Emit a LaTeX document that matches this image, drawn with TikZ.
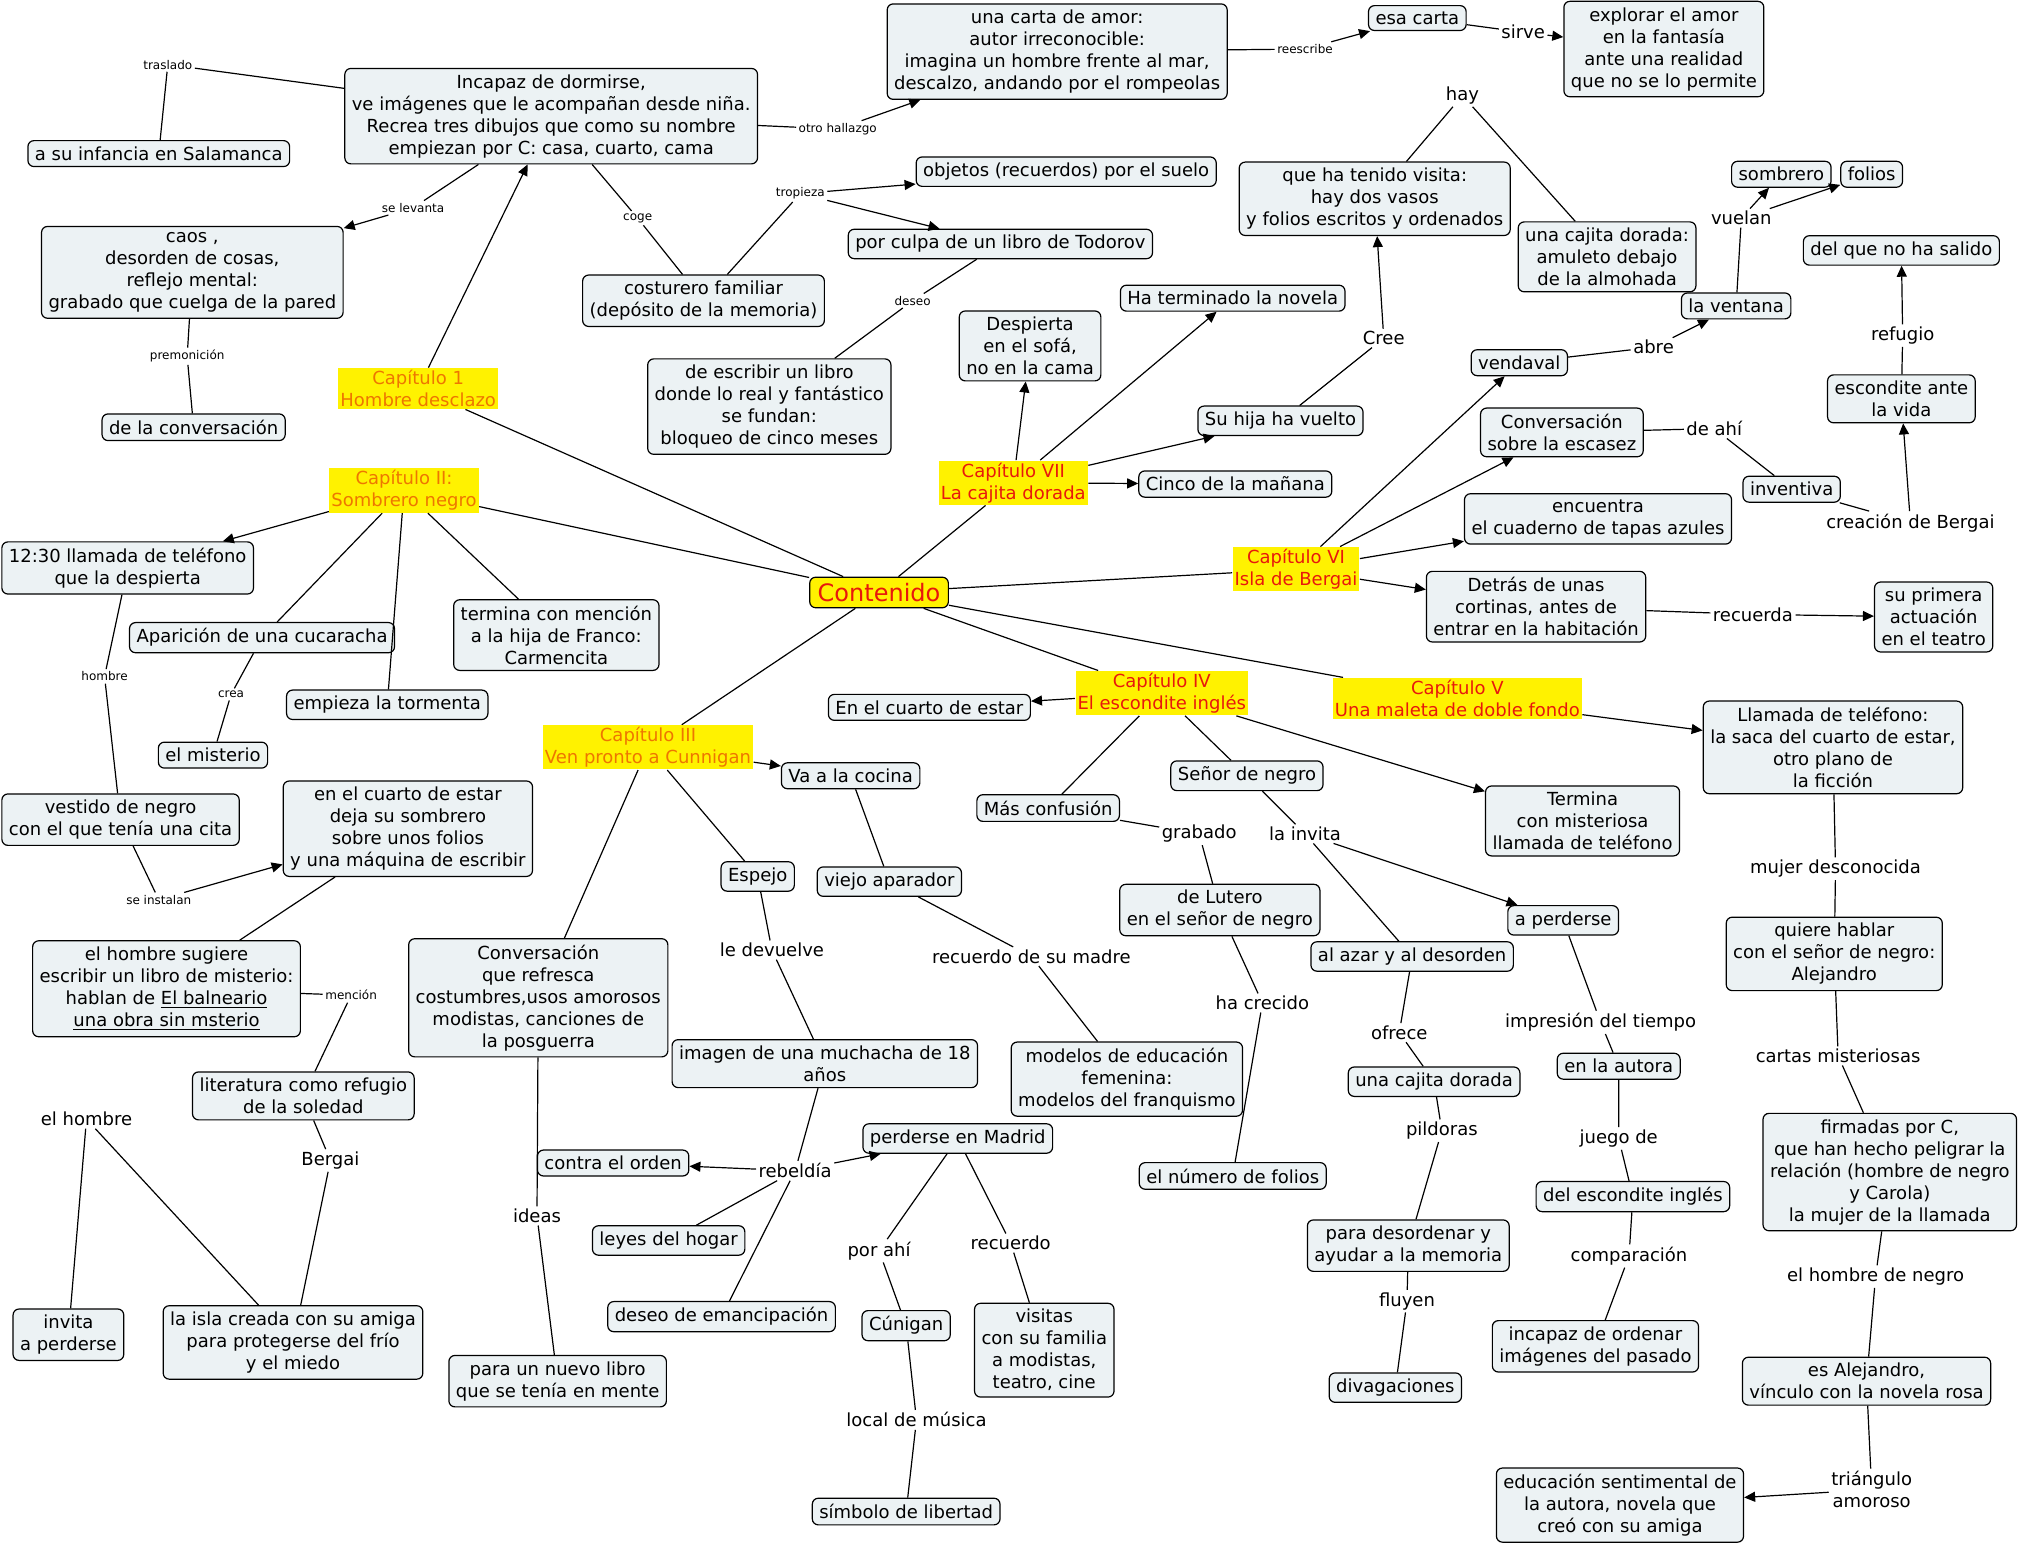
\documentclass[tikz,border=0pt]{standalone}
\usepackage{fontspec}
\setmainfont{DejaVu Sans}
\usetikzlibrary{arrows.meta}

\definecolor{conceptfill}{RGB}{236,242,244}
\definecolor{capred}{RGB}{232,24,12}
\definecolor{caporange}{RGB}{238,118,0}

\begin{document}
\begin{tikzpicture}[x=0.6454pt, y=-0.6454pt, line width=0.6pt,
  >={Triangle[length=5.5pt,width=5pt]},
  concept/.style={draw, rounded corners=3pt, fill=conceptfill, inner xsep=3.5pt, inner ysep=3pt, align=center, font=\fontsize{9}{11}\selectfont},
  chapter/.style={fill=yellow, inner sep=1pt, align=center, font=\fontsize{9}{11}\selectfont},
  linkword/.style={inner sep=1pt, align=center, font=\fontsize{9}{11}\selectfont},
  smalllink/.style={inner sep=1pt, font=\fontsize{6}{7}\selectfont}]
% fix the page size
\useasboundingbox (0,0) rectangle (1568,1199);

% centre of the map
\node[draw, rounded corners=3pt, fill=yellow, text=capred, inner xsep=4pt, inner ysep=3pt, font=\fontsize{12}{14}\selectfont] (cont) at (681,459) {Contenido};

% chapters
\node[chapter, text=caporange] (cap1) at (324,301) {Capítulo 1\\Hombre desclazo};
\node[chapter, text=caporange] (cap2) at (313,380) {Capítulo II:\\Sombrero negro};
\node[chapter, text=caporange] (cap3) at (502,579) {Capítulo III\\Ven pronto a Cunnigan};
\node[chapter, text=capred] (cap4) at (900,537) {Capítulo IV\\El escondite inglés};
\node[chapter, text=capred] (cap5) at (1129,541) {Capítulo V\\Una maleta de doble fondo};
\node[chapter, text=capred] (cap6) at (1004,441) {Capítulo VI\\Isla de Bergai};
\node[chapter, text=capred] (cap7) at (785,374) {Capítulo VII\\La cajita dorada};

\foreach \c in {cap1,cap2,cap3,cap4,cap5,cap6,cap7}
  \draw (cont) -- (\c);

% chapter 1
\node[concept] (inc) at (427,90) {Incapaz de dormirse,\\ve imágenes que le acompañan desde niña.\\Recrea tres dibujos que como su nombre\\empiezan por C: casa, cuarto, cama};
\node[concept] (sal) at (123,119) {a su infancia en Salamanca};
\node[concept] (caos) at (149,211) {caos ,\\desorden de cosas,\\reflejo mental:\\grabado que cuelga de la pared};
\node[concept] (conv) at (150,331) {de la conversación};
\node[concept] (carta) at (819,40) {una carta de amor:\\autor irreconocible:\\imagina un hombre frente al mar,\\descalzo, andando por el rompeolas};
\node[concept] (esa) at (1098,14) {esa carta};
\node[concept] (expl) at (1289,38) {explorar el amor\\en la fantasía\\ante una realidad\\que no se lo permite};
\node[concept] (obj) at (826,133) {objetos (recuerdos) por el suelo};
\node[concept] (todo) at (775,189) {por culpa de un libro de Todorov};
\node[concept] (cost) at (545,233) {costurero familiar\\(depósito de la memoria)};
\node[concept] (escr) at (596,315) {de escribir un libro\\donde lo real y fantástico\\se fundan:\\bloqueo de cinco meses};

\node[smalllink] (ltras) at (130,50) {traslado};
\node[smalllink] (llev) at (320,161) {se levanta};
\node[smalllink] (lhall) at (649,100) {otro hallazgo};
\node[smalllink] (lrees) at (1011,38) {reescribe};
\node[linkword] (lsirv) at (1180,25) {sirve};
\node[smalllink] (ltrop) at (620,150) {tropieza};
\node[smalllink] (lcoge) at (494,169) {coge};
\node[smalllink] (ldes) at (707,233) {deseo};
\node[smalllink] (lprem) at (145,276) {premonición};

\draw[->] (cap1) -- (inc);
\draw (inc) -- (ltras) -- (sal);
\draw (inc) -- (llev);
\draw[->] (llev) -- (caos);
\draw (caos) -- (lprem) -- (conv);
\draw (inc) -- (lhall);
\draw[->] (lhall) -- (carta);
\draw (carta) -- (lrees);
\draw[->] (lrees) -- (esa);
\draw (esa) -- (lsirv);
\draw[->] (lsirv) -- (expl);
\draw (inc) -- (lcoge) -- (cost);
\draw (cost) -- (ltrop);
\draw[->] (ltrop) -- (obj);
\draw[->] (ltrop) -- (todo);
\draw (todo) -- (ldes) -- (escr);

% chapter 2
\node[concept, anchor=west] (llam) at (1,440) {12:30 llamada de teléfono\\que la despierta};
\node[concept] (cuca) at (203,494) {Aparición de una cucaracha};
\node[concept] (franco) at (431,492) {termina con mención\\a la hija de Franco:\\Carmencita};
\node[concept] (torm) at (300,546) {empieza la tormenta};
\node[concept] (mist) at (165,585) {el misterio};
\node[concept, anchor=west] (vestido) at (1,635) {vestido de negro\\con el que tenía una cita};
\node[concept] (deja) at (316,642) {en el cuarto de estar\\deja su sombrero\\sobre unos folios\\y una máquina de escribir};
\node[concept] (sugiere) at (129,766) {el hombre sugiere\\escribir un libro de misterio:\\hablan de \underline{El balneario}\\\underline{una obra sin msterio}};
\node[concept] (lit) at (235,849) {literatura como refugio\\de la soledad};
\node[concept] (invita) at (53,1034) {invita\\a perderse};
\node[concept] (isla) at (227,1040) {la isla creada con su amiga\\para protegerse del frío\\y el miedo};

\node[smalllink] (lhomb) at (81,524) {hombre};
\node[smalllink] (lcreasm) at (179,538) {crea};
\node[smalllink] (linst) at (123,697) {se instalan};
\node[smalllink] (lmenc) at (272,771) {mención};
\node[linkword] (lberg) at (256,899) {Bergai};
\node[linkword] (lelh) at (67,867) {el hombre};

\draw[->] (cap2) -- (llam);
\draw (cap2) -- (cuca);
\draw (cap2) -- (torm);
\draw (cap2) -- (franco);
\draw (llam) -- (lhomb) -- (vestido);
\draw (cuca) -- (lcreasm) -- (mist);
\draw (vestido) -- (linst);
\draw[->] (linst) -- (deja);
\draw (deja) -- (sugiere);
\draw (sugiere) -- (lmenc) -- (lit);
\draw (lit) -- (lberg) -- (isla);
\draw (invita) -- (lelh) -- (isla);

% chapter 3
\node[concept] (cocina) at (659,601) {Va a la cocina};
\node[concept] (espejo) at (587,679) {Espejo};
\node[concept] (apar) at (689,683) {viejo aparador};
\node[concept] (refresca) at (417,773) {Conversación\\que refresca\\costumbres,usos amorosos\\modistas, canciones de\\la posguerra};
\node[concept] (imagen) at (639,824) {imagen de una muchacha de 18\\años};
\node[concept] (modelos) at (873,836) {modelos de educación\\femenina:\\modelos del franquismo};
\node[concept] (orden) at (475,901) {contra el orden};
\node[concept] (madrid) at (742,882) {perderse en Madrid};
\node[concept] (leyes) at (518,961) {leyes del hogar};
\node[concept] (emanc) at (559,1020) {deseo de emancipación};
\node[concept] (cunig) at (702,1027) {Cúnigan};
\node[concept] (visitas) at (809,1046) {visitas\\con su familia\\a modistas,\\teatro, cine};
\node[concept] (nuevo) at (432,1070) {para un nuevo libro\\que se tenía en mente};
\node[concept] (simb) at (702,1171) {símbolo de libertad};

\node[linkword] (ldevu) at (598,736) {le devuelve};
\node[linkword] (lmadre) at (799,741) {recuerdo de su madre};
\node[linkword] (lideas) at (416,942) {ideas};
\node[linkword] (lrebe) at (616,907) {rebeldía};
\node[linkword] (lporahi) at (681,969) {por ahí};
\node[linkword] (lrecu2) at (783,963) {recuerdo};
\node[linkword] (lmus) at (710,1100) {local de música};

\draw[->] (cap3) -- (cocina);
\draw (cap3) -- (espejo);
\draw (cap3) -- (refresca);
\draw (cocina) -- (apar);
\draw (apar) -- (lmadre) -- (modelos);
\draw (espejo) -- (ldevu) -- (imagen);
\draw (imagen) -- (lrebe) -- (emanc);
\draw (lrebe) -- (leyes);
\draw[->] (lrebe) -- (orden);
\draw[->] (lrebe) -- (madrid);
\draw (refresca) -- (lideas) -- (nuevo);
\draw (madrid) -- (lporahi) -- (cunig);
\draw (madrid) -- (lrecu2) -- (visitas);
\draw (cunig) -- (lmus) -- (simb);

% chapter 4
\node[concept] (cuarto) at (720,548) {En el cuarto de estar};
\node[concept] (confus) at (812,626) {Más confusión};
\node[concept] (senor) at (966,601) {Señor de negro};
\node[concept] (termina) at (1226,636) {Termina\\con misteriosa\\llamada de teléfono};
\node[concept] (lutero) at (945,705) {de Lutero\\en el señor de negro};
\node[concept] (aperd) at (1211,713) {a perderse};
\node[concept] (azar) at (1094,741) {al azar y al desorden};
\node[concept] (cajita) at (1111,838) {una cajita dorada};
\node[concept] (autora) at (1254,826) {en la autora};
\node[concept] (numfol) at (955,911) {el número de folios};
\node[concept] (escing) at (1265,927) {del escondite inglés};
\node[concept] (desord) at (1091,965) {para desordenar y\\ayudar a la memoria};
\node[concept] (incord) at (1236,1043) {incapaz de ordenar\\imágenes del pasado};
\node[concept] (divag) at (1081,1075) {divagaciones};

\node[linkword] (lgrab) at (929,646) {grabado};
\node[linkword] (linvi) at (1011,646) {la invita};
\node[linkword] (lcrec) at (978,777) {ha crecido};
\node[linkword] (lofre) at (1084,800) {ofrece};
\node[linkword] (limpr) at (1240,792) {impresión del tiempo};
\node[linkword] (lpild) at (1117,876) {pildoras};
\node[linkword] (ljueg) at (1254,882) {juego de};
\node[linkword] (lcomp) at (1262,973) {comparación};
\node[linkword] (lfluy) at (1090,1008) {fluyen};

\draw[->] (cap4) -- (cuarto);
\draw (cap4) -- (confus);
\draw (cap4) -- (senor);
\draw[->] (cap4) -- (termina);
\draw (confus) -- (lgrab) -- (lutero);
\draw (lutero) -- (lcrec) -- (numfol);
\draw (senor) -- (linvi) -- (azar);
\draw[->] (linvi) -- (aperd);
\draw (azar) -- (lofre) -- (cajita);
\draw (cajita) -- (lpild) -- (desord);
\draw (desord) -- (lfluy) -- (divag);
\draw (aperd) -- (limpr) -- (autora);
\draw (autora) -- (ljueg) -- (escing);
\draw (escing) -- (lcomp) -- (incord);

% chapter 5
\node[concept] (tel) at (1420,579) {Llamada de teléfono:\\la saca del cuarto de estar,\\otro plano de\\la ficción};
\node[concept] (quiere) at (1421,739) {quiere hablar\\con el señor de negro:\\Alejandro};
\node[concept] (firm) at (1464,908) {firmadas por C,\\que han hecho peligrar la\\relación (hombre de negro\\y Carola)\\la mujer de la llamada};
\node[concept] (alej) at (1446,1070) {es Alejandro,\\vínculo con la novela rosa};
\node[concept] (educ) at (1255,1166) {educación sentimental de\\la autora, novela que\\creó con su amiga};

\node[linkword] (lmuj) at (1422,673) {mujer desconocida};
\node[linkword] (lcart) at (1424,818) {cartas misteriosas};
\node[linkword] (lhneg) at (1453,989) {el hombre de negro};
\node[linkword] (ltri) at (1450,1154) {triángulo\\amoroso};

\draw[->] (cap5) -- (tel);
\draw (tel) -- (lmuj) -- (quiere);
\draw (quiere) -- (lcart) -- (firm);
\draw (firm) -- (lhneg) -- (alej);
\draw (alej) -- (ltri);
\draw[->] (ltri) -- (educ);

% chapter 6
\node[concept] (vend) at (1177,281) {vendaval};
\node[concept] (vent) at (1345,237) {la ventana};
\node[concept] (somb) at (1380,135) {sombrero};
\node[concept] (fol) at (1450,135) {folios};
\node[concept] (escas) at (1210,335) {Conversación\\sobre la escasez};
\node[concept] (inven) at (1388,379) {inventiva};
\node[concept] (esc) at (1473,309) {escondite ante\\la vida};
\node[concept] (nosal) at (1473,194) {del que no ha salido};
\node[concept] (cuad) at (1238,402) {encuentra\\el cuaderno de tapas azules};
\node[concept] (detras) at (1190,470) {Detrás de unas\\cortinas, antes de\\entrar en la habitación};
\node[concept] (teatro) at (1498,478) {su primera\\actuación\\en el teatro};

\node[linkword] (labre) at (1281,269) {abre};
\node[linkword] (lvuel) at (1349,169) {vuelan};
\node[linkword] (lahi) at (1328,332) {de ahí};
\node[linkword] (lcrea) at (1480,405) {creación de Bergai};
\node[linkword] (lrefu) at (1474,260) {refugio};
\node[linkword] (lrecu) at (1358,476) {recuerda};

\draw[->] (cap6) -- (vend);
\draw[->] (cap6) -- (escas);
\draw[->] (cap6) -- (cuad);
\draw[->] (cap6) -- (detras);
\draw (vend) -- (labre);
\draw[->] (labre) -- (vent);
\draw (vent) -- (lvuel);
\draw[->] (lvuel) -- (somb);
\draw[->] (lvuel) -- (fol);
\draw (escas) -- (lahi) -- (inven);
\draw (inven) -- (lcrea);
\draw[->] (lcrea) -- (esc);
\draw (esc) -- (lrefu);
\draw[->] (lrefu) -- (nosal);
\draw (detras) -- (lrecu);
\draw[->] (lrecu) -- (teatro);

% chapter 7
\node[concept] (desp) at (798,268) {Despierta\\en el sofá,\\no en la cama};
\node[concept] (hater) at (955,231) {Ha terminado la novela};
\node[concept] (hija) at (992,326) {Su hija ha vuelto};
\node[concept] (cinco) at (957,375) {Cinco de la mañana};
\node[concept] (visita) at (1065,154) {que ha tenido visita:\\hay dos vasos\\y folios escritos y ordenados};
\node[concept] (amul) at (1245,199) {una cajita dorada:\\amuleto debajo\\de la almohada};

\node[linkword] (lcree) at (1072,262) {Cree};
\node[linkword] (lhay) at (1133,74) {hay};

\draw[->] (cap7) -- (desp);
\draw[->] (cap7) -- (hater);
\draw[->] (cap7) -- (hija);
\draw[->] (cap7) -- (cinco);
\draw (hija) -- (lcree);
\draw[->] (lcree) -- (visita);
\draw (visita) -- (lhay) -- (amul);

\end{tikzpicture}
\end{document}
